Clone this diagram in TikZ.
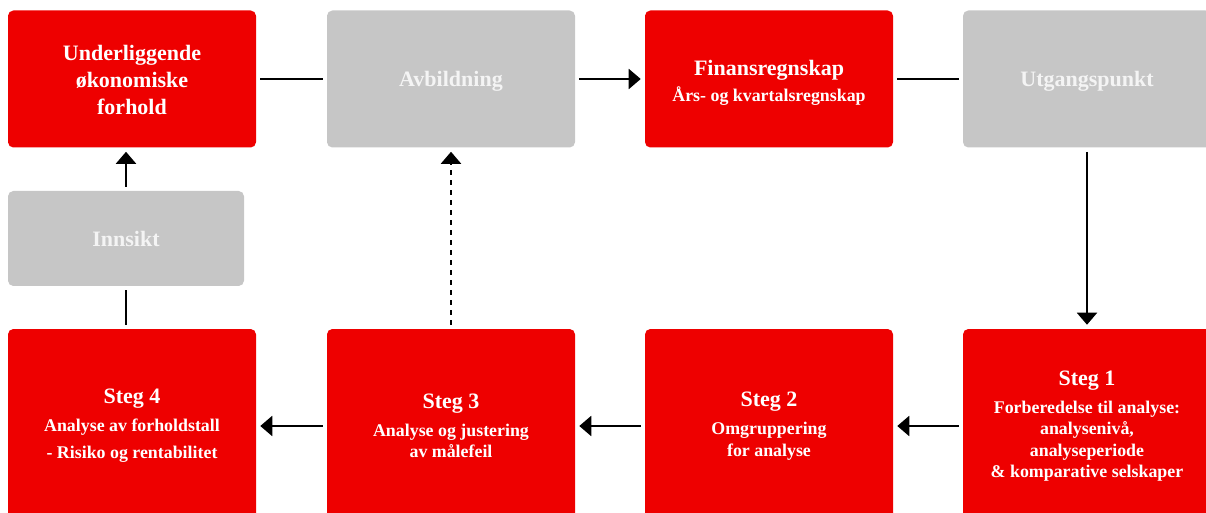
\documentclass[tikz,border=0pt]{standalone}
\usepackage{fontspec}
\setmainfont{Liberation Serif}
\usetikzlibrary{arrows.meta}
\definecolor{boxred}{HTML}{EE0000}
\definecolor{boxgray}{HTML}{C6C6C6}
\definecolor{graytext}{HTML}{F4F4F4}
\newcommand\boxtitle{\fontsize{16.5}{20}\selectfont\bfseries}
\newcommand\boxsub{\fontsize{13.4}{16}\selectfont\bfseries}
% lower a line of text without changing the space it takes
\newcommand\lowered[2]{\raisebox{-#1}[\height][\depth]{#2}}
\begin{document}
\begin{tikzpicture}[x=0.75pt,y=-0.75pt,
  box/.style={rounded corners=4pt, inner sep=0pt, align=center,
    font=\boxtitle, minimum width=186pt},
  redbox/.style={box, fill=boxred, text=white},
  graybox/.style={box, fill=boxgray, text=graytext},
  upper/.style={minimum height=102.75pt},
  lower/.style={minimum height=145.5pt},
  link/.style={line width=1.5pt, shorten >=3pt, shorten <=3pt},
  arrow/.style={link, -{Triangle[length=9pt,width=15pt]}},
]
\useasboundingbox (0,0) rectangle (1206,513);
\clip (0,0) rectangle (1206,513);

% top row
\node[redbox,upper] (econ) at (132,79)
  {\lowered{0.75pt}{Underliggende}\\ \lowered{0.75pt}{økonomiske}\\ \lowered{0.75pt}{forhold}};
\node[graybox,upper] (avb) at (451,79) {\lowered{1.5pt}{Avbildning}};
\node[redbox,upper] (fin) at (769,79)
  {\lowered{3pt}{Finansregnskap}\\[-0.5pt] \boxsub \lowered{3pt}{Års- og kvartalsregnskap}};
\node[graybox,upper] (utg) at (1087,79) {\lowered{1.5pt}{Utgangspunkt}};

% insight box
\node[graybox,minimum width=177pt,minimum height=71.25pt] (inn) at (126,238.5) {Innsikt};

% bottom row
\node[redbox,lower] (s4) at (132,426)
  {Steg 4\\[1pt] \boxsub Analyse av forholdstall\\[0pt] \boxsub - Risiko og rentabilitet};
\node[redbox,lower] (s3) at (451,426)
  {Steg 3\\[1pt] \boxsub Analyse og justering\\[-4pt] \boxsub av målefeil};
\node[redbox,lower] (s2) at (769,426)
  {Steg 2\\[1pt] \boxsub Omgruppering\\[-4pt] \boxsub for analyse};
\node[redbox,lower] (s1) at (1087,426)
  {Steg 1\\[1pt] \boxsub Forberedelse til analyse:\\[-4pt] \boxsub analysenivå,\\[-4pt]
   \boxsub analyseperiode\\[-4pt] \boxsub \& komparative selskaper};

% connectors
\draw[link] (econ.east) -- (avb.west);
\draw[arrow] (avb.east) -- (fin.west);
\draw[link] (fin.east) -- (utg.west);
\draw[arrow] (utg.south) -- (s1.north);
\draw[arrow] (s1.west) -- (s2.east);
\draw[arrow] (s2.west) -- (s3.east);
\draw[arrow] (s3.west) -- (s4.east);
\draw[arrow, dash pattern=on 3.75pt off 3.75pt] (s3.north) -- (avb.south);
\draw[link] (s4.north -| inn.south) -- (inn.south);
\draw[arrow] (inn.north) -- (inn.north |- econ.south);
\end{tikzpicture}
\end{document}
